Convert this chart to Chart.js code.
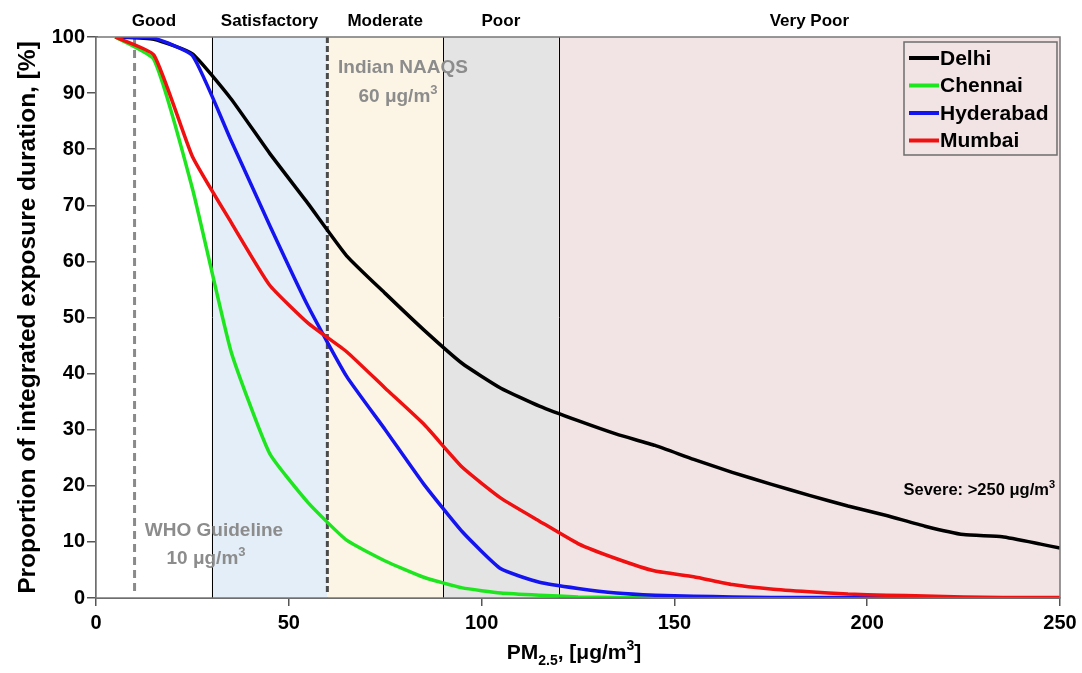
<!DOCTYPE html>
<html>
<head>
<meta charset="utf-8">
<script src="https://cdn.jsdelivr.net/npm/chart.js@4.4.1/dist/chart.umd.min.js"></script>
<style>
  html, body { margin: 0; padding: 0; background: #fff; }
  #wrap { width: 1082px; height: 673px; position: relative; }
</style>
</head>
<body>
<div id="wrap"><canvas id="pmChart"></canvas></div>
<script>
const FONT = "'Liberation Sans', Arial, sans-serif";

// PM2.5 bin centres (ug/m3)
const pmValues = [5, 15, 25, 35, 45, 55, 65, 75, 85, 95, 105, 115, 125, 135, 145, 155, 165, 175, 185, 195, 205, 215, 225, 235, 245, 250];

const delhi = [100, 99.6, 97, 89, 79.3, 70.3, 61, 54.3, 47.8, 41.8, 37.4, 34.2, 31.6, 29.2, 27.2, 24.7, 22.4, 20.3, 18.3, 16.4, 14.7, 12.8, 11.3, 10.9, 9.6, 8.9];
const chennai = [100, 96, 73, 44, 25.8, 17, 10.3, 6.6, 3.7, 1.8, 0.9, 0.5, 0.2, 0.1, 0, 0, 0, 0, 0, 0, 0, 0, 0, 0, 0, 0];
const hyderabad = [100, 99.8, 96.7, 81.6, 66.5, 52, 39.5, 30, 20.3, 11.8, 5.2, 2.8, 1.7, 0.9, 0.5, 0.3, 0.2, 0.1, 0.1, 0.1, 0, 0, 0, 0, 0, 0];
const mumbai = [100, 96.8, 78.7, 67, 55.8, 49, 43.9, 37.4, 31, 23.3, 17.8, 13.7, 9.7, 7, 4.8, 3.8, 2.4, 1.6, 1.1, 0.7, 0.5, 0.35, 0.2, 0.1, 0.1, 0.1];

const cityNames = ["Delhi", "Chennai", "Hyderabad", "Mumbai"];
const cityColors = ["#000000", "#1ee61e", "#1414f0", "#f01010"];
const drawOrder = [4, 3, 2, 1]; // Delhi underneath

// AQI categories
const bandEdges = [0, 30, 60, 90, 120, 250];
const bandLabels = ["Good", "Satisfactory", "Moderate", "Poor", "Very Poor"];
const bandColors = ["#ffffff", "#e4eef8", "#fcf5e6", "#e4e4e4", "#f2e4e4"];

const xTicks = [0, 50, 100, 150, 200, 250];
const yTicks = [0, 10, 20, 30, 40, 50, 60, 70, 80, 90, 100];

const toPoints = (vals) => pmValues.map((x, i) => ({ x: x, y: vals[i] }));

// text with sub/superscripts: parts = [[text, 0|-1|1], ...]  -1 sub, 1 sup
function drawRich(ctx, parts, x, y, size, weight, color, align) {
  const small = Math.round(size * 0.68);
  let total = 0;
  const widths = parts.map(([t, s]) => {
    ctx.font = `${weight} ${s ? small : size}px ${FONT}`;
    const w = ctx.measureText(t).width;
    total += w;
    return w;
  });
  let cx = align === "center" ? x - total / 2 : align === "right" ? x - total : x;
  ctx.fillStyle = color;
  ctx.textAlign = "left";
  ctx.textBaseline = "alphabetic";
  parts.forEach(([t, s], i) => {
    ctx.font = `${weight} ${s ? small : size}px ${FONT}`;
    const dy = s === 1 ? -size * 0.42 : s === -1 ? size * 0.3 : 0;
    ctx.fillText(t, cx, y + dy);
    cx += widths[i];
  });
}

const backdrop = {
  id: "backdrop",
  beforeDatasetsDraw(chart) {
    const { ctx, chartArea: a, scales: { x, y } } = chart;
    ctx.save();
    for (let i = 0; i < bandLabels.length; i++) {
      const x0 = x.getPixelForValue(bandEdges[i]);
      const x1 = x.getPixelForValue(bandEdges[i + 1]);
      ctx.fillStyle = bandColors[i];
      ctx.fillRect(x0, a.top, x1 - x0, a.bottom - a.top);
      ctx.fillStyle = "#000";
      ctx.font = `bold 17px ${FONT}`;
      ctx.textAlign = "center";
      ctx.textBaseline = "middle";
      ctx.fillText(bandLabels[i], (x0 + x1) / 2, 21);
    }
    // thin category separators
    ctx.strokeStyle = "#000";
    ctx.lineWidth = 1;
    [30, 90, 120].forEach((v) => {
      const px = Math.round(x.getPixelForValue(v)) + 0.5;
      ctx.beginPath();
      ctx.moveTo(px, a.top);
      ctx.lineTo(px, a.bottom);
      ctx.stroke();
    });
    // Indian NAAQS 60
    let px = x.getPixelForValue(60);
    ctx.strokeStyle = "#4a4a4a";
    ctx.lineWidth = 3;
    ctx.setLineDash([6, 3]);
    ctx.beginPath();
    ctx.moveTo(px, a.top);
    ctx.lineTo(px, a.bottom - 4);
    ctx.stroke();
    // WHO 10
    px = x.getPixelForValue(10);
    ctx.strokeStyle = "#8a8a8a";
    ctx.setLineDash([8, 5]);
    ctx.beginPath();
    ctx.moveTo(px, a.top);
    ctx.lineTo(px, a.bottom - 4);
    ctx.stroke();
    ctx.setLineDash([]);

    // annotations
    const gray = "#8c8c8c";
    drawRich(ctx, [["Indian NAAQS", 0]], 403, 73, 19, "bold", gray, "center");
    drawRich(ctx, [["60 μg/m", 0], ["3", 1]], 398, 102, 19, "bold", gray, "center");
    drawRich(ctx, [["WHO Guideline", 0]], 214, 536, 19, "bold", gray, "center");
    drawRich(ctx, [["10 μg/m", 0], ["3", 1]], 206, 564, 19, "bold", gray, "center");
    drawRich(ctx, [["Severe: >250 μg/m", 0], ["3", 1]], 1055, 495, 16.5, "bold", "#000", "right");
    ctx.restore();
  },
  afterDraw(chart) {
    const { ctx, chartArea: a } = chart;
    ctx.save();
    // plot frame
    ctx.strokeStyle = "#777";
    ctx.lineWidth = 1.5;
    ctx.strokeRect(a.left, a.top, a.right - a.left, a.bottom - a.top);

    // legend
    const lx = 904, ly = 42, lw = 153, lh = 113;
    ctx.strokeStyle = "#6d6d6d";
    ctx.lineWidth = 1.5;
    ctx.strokeRect(lx, ly, lw, lh);
    cityNames.forEach((name, i) => {
      const cy = 58 + i * 27.5;
      ctx.strokeStyle = cityColors[i];
      ctx.lineWidth = 4;
      ctx.beginPath();
      ctx.moveTo(909, cy);
      ctx.lineTo(939, cy);
      ctx.stroke();
      ctx.fillStyle = "#000";
      ctx.font = `bold 21px ${FONT}`;
      ctx.textAlign = "left";
      ctx.textBaseline = "middle";
      ctx.fillText(name, 940, cy + 1);
    });

    // axis titles
    drawRich(ctx, [["PM", 0], ["2.5", -1], [", [μg/m", 0], ["3", 1], ["]", 0]], 574, 659, 21, "bold", "#000", "center");
    ctx.translate(35, (a.top + a.bottom) / 2);
    ctx.rotate(-Math.PI / 2);
    ctx.fillStyle = "#000";
    ctx.font = `bold 24.5px ${FONT}`;
    ctx.textAlign = "center";
    ctx.textBaseline = "alphabetic";
    ctx.fillText("Proportion of integrated exposure duration, [%]", 0, 0);
    ctx.restore();
  },
};

const series = [delhi, chennai, hyderabad, mumbai];

new Chart(document.getElementById("pmChart"), {
  type: "line",
  data: {
    datasets: series.map((vals, i) => ({
      label: cityNames[i],
      data: toPoints(vals),
      order: drawOrder[i],
      borderColor: cityColors[i],
      backgroundColor: cityColors[i],
      borderWidth: 3.5,
      pointRadius: 0,
      tension: 0.15,
      fill: false,
    })),
  },
  options: {
    responsive: true,
    maintainAspectRatio: false,
    animation: false,
    layout: { padding: { top: 37, right: 22, left: 0, bottom: 0 } },
    plugins: {
      legend: { display: false },
      tooltip: { enabled: false },
    },
    scales: {
      x: {
        type: "linear",
        min: 0,
        max: 250,
        afterFit: (s) => { s.height = 75; },
        afterBuildTicks: (s) => { s.ticks = xTicks.map((v) => ({ value: v })); },
        ticks: { color: "#000", padding: 5, font: { family: FONT, size: 20, weight: "bold" } },
        grid: { drawOnChartArea: false, drawTicks: true, tickLength: 8, color: "#555", lineWidth: 1.5 },
        border: { display: true, color: "#555", width: 2 },
      },
      y: {
        min: 0,
        max: 100,
        afterFit: (s) => { s.width = 96; },
        afterBuildTicks: (s) => { s.ticks = yTicks.map((v) => ({ value: v })); },
        ticks: { color: "#000", padding: 2, font: { family: FONT, size: 20, weight: "bold" } },
        grid: { drawOnChartArea: false, drawTicks: true, tickLength: 9, color: "#555", lineWidth: 1.5 },
        border: { display: true, color: "#555", width: 3 },
      },
    },
  },
  plugins: [backdrop],
});
</script>
</body>
</html>
